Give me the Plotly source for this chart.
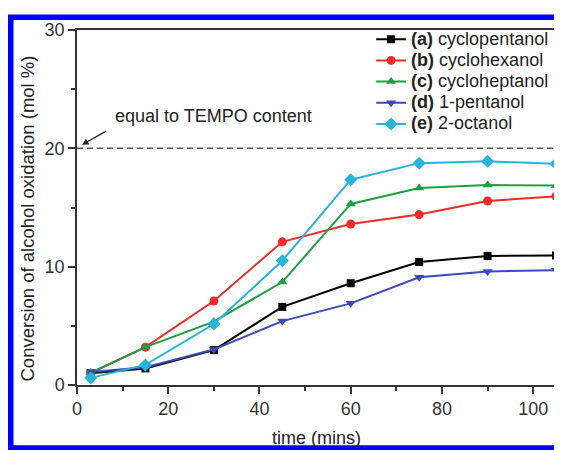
import plotly.graph_objects as go

# ---- data ----
time_min = [3, 15, 30, 45, 60, 75, 90, 105]
cyclopentanol = [1.0, 1.4, 2.95, 6.6, 8.6, 10.4, 10.9, 10.95]
cyclohexanol = [1.0, 3.2, 7.1, 12.1, 13.6, 14.4, 15.55, 15.95]
cycloheptanol = [1.05, 3.2, 5.35, 8.7, 15.3, 16.65, 16.9, 16.85]
pentanol_1 = [1.1, 1.5, 3.0, 5.4, 6.9, 9.1, 9.6, 9.7]
octanol_2 = [0.6, 1.7, 5.15, 10.5, 17.35, 18.75, 18.9, 18.7]

series_labels = ["(a)", "(b)", "(c)", "(d)", "(e)"]
series_names = ["cyclopentanol", "cyclohexanol", "cycloheptanol", "1-pentanol", "2-octanol"]
series_values = [cyclopentanol, cyclohexanol, cycloheptanol, pentanol_1, octanol_2]
TEMPO_LEVEL = 20

x_ticks = [0, 20, 40, 60, 80, 100]
y_ticks = [0, 10, 20, 30]

# ---- styles ----
colors = ["#000000", "#ef2b2b", "#1c9f45", "#3d4bb5", "#29b3d8"]
symbols = ["square", "circle", "triangle-up", "triangle-down", "diamond"]
msizes = [8, 9, 9, 9, 10]
FONT = "Liberation Sans, Arial, sans-serif"

fig = go.Figure()
for lab, name, vals, c, s, ms in zip(series_labels, series_names, series_values, colors, symbols, msizes):
    fig.add_trace(go.Scatter(
        x=time_min, y=vals, mode="lines+markers",
        name='<span style="font-size:18px"><b>%s</b> %s</span>' % (lab, name),
        line=dict(color=c, width=2),
        marker=dict(symbol=s, size=ms, color=c),
    ))

fig.add_shape(type="line", xref="x", yref="y", x0=0, x1=105, y0=TEMPO_LEVEL, y1=TEMPO_LEVEL,
              line=dict(color="#555555", width=1.5, dash="6px,4px"), layer="below")

fig.add_annotation(x=7.9, y=22.75, xref="x", yref="y", text="equal to TEMPO content",
                   showarrow=False, xanchor="left", yanchor="middle",
                   font=dict(family=FONT, size=18, color="#222222"))
fig.add_annotation(x=1.1, y=20.3, xref="x", yref="y", text=" ", showarrow=True,
                   ax=28, ay=-16, arrowhead=2, arrowsize=1, arrowwidth=1.3,
                   arrowcolor="#222222", standoff=0, startstandoff=0)

# y-axis title (placed as rotated text to match the original offset)
fig.add_annotation(x=0, y=0.469, xref="paper", yref="paper", xshift=-49,
                   text="Conversion of alcohol oxidation (mol %)", textangle=-90,
                   showarrow=False, xanchor="center", yanchor="middle",
                   font=dict(family=FONT, size=18.5, color="#222222"))

# blue frame around the image
fig.add_shape(type="rect", xref="paper", yref="paper",
              x0=-0.1383, x1=1.0062, y0=-0.1778, y1=1.0361,
              line=dict(color="#0000ff", width=5.5), fillcolor="rgba(0,0,0,0)", layer="above")

axis_common = dict(
    showline=True, linecolor="#333333", linewidth=1.5, mirror=True,
    showgrid=False, zeroline=False, ticks="outside", ticklen=7, tickwidth=1.5,
    tickcolor="#333333", tickfont=dict(family=FONT, size=18, color="#333333"),
)

fig.update_xaxes(range=[0, 105], tickvals=x_ticks,
                 minor=dict(dtick=10, tick0=0, ticks="outside", ticklen=4, tickcolor="#333333", tickwidth=1.5),
                 title=dict(text="time (mins)", font=dict(family=FONT, size=18, color="#222222"), standoff=13),
                 **axis_common)
fig.update_yaxes(range=[0, 30], tickvals=y_ticks,
                 minor=dict(dtick=5, tick0=0, ticks="outside", ticklen=4, tickcolor="#333333", tickwidth=1.5),
                 **axis_common)

fig.update_layout(
    width=562, height=450,
    margin=dict(l=69, r=12, t=17, b=73),
    paper_bgcolor="white", plot_bgcolor="white",
    font=dict(family=FONT, size=18, color="#222222"),
    showlegend=True,
    legend=dict(x=0.614, y=1.018, xanchor="left", yanchor="top",
                bgcolor="rgba(0,0,0,0)", borderwidth=0,
                font=dict(family=FONT, size=14, color="#222222"),
                tracegroupgap=0),
)

fig.write_html("out.html")
